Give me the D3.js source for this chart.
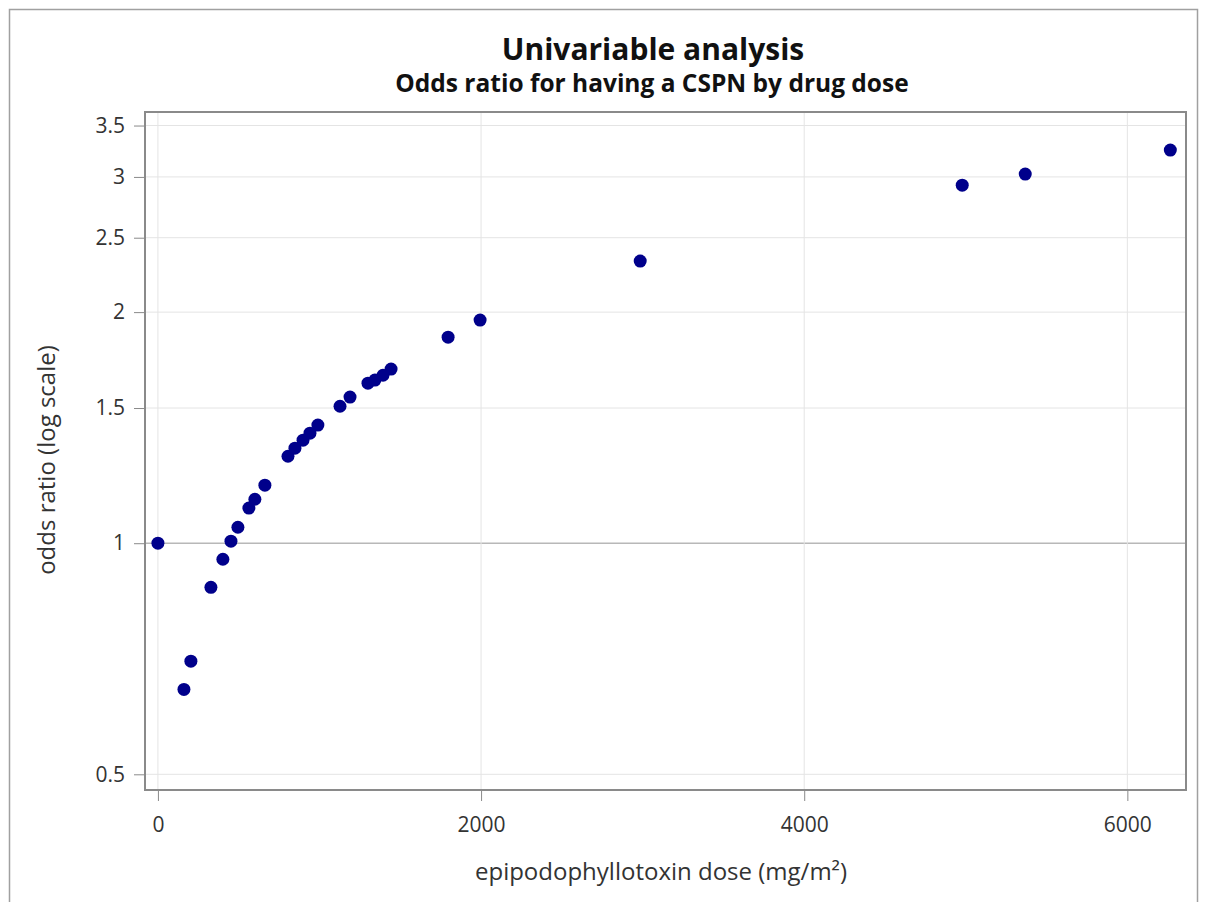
<!DOCTYPE html>
<html><head><meta charset="utf-8">
<script src="https://cdn.jsdelivr.net/npm/d3@7"></script>
<style>body{margin:0;background:#fff;font-family:"Open Sans","DejaVu Sans",sans-serif;}</style>
</head><body><svg id="c" width="1207" height="902"></svg>
<script>
const doses = [0, 161, 204, 328, 402, 452, 495, 563, 600, 662, 805, 848, 898, 941, 990, 1127, 1189, 1300, 1343, 1393, 1443, 1796, 1994, 2985, 4978, 5368, 6266];
const oddsRatios = [1.0, 0.645, 0.702, 0.876, 0.953, 1.006, 1.049, 1.111, 1.141, 1.19, 1.298, 1.33, 1.362, 1.391, 1.425, 1.508, 1.55, 1.616, 1.631, 1.655, 1.686, 1.855, 1.953, 2.331, 2.927, 3.026, 3.252];
const xTicks = [0, 2000, 4000, 6000];
const yTicks = [0.5, 1, 1.5, 2, 2.5, 3, 3.5];
const titleText = "Univariable analysis";
const subtitleText = "Odds ratio for having a CSPN by drug dose";
const xLabel = "epipodophyllotoxin dose (mg/m²)";
const yLabel = "odds ratio (log scale)";

const svg = d3.select("#c");
const L = 145, R = 1186, T = 112, B = 790;
const x = d3.scaleLinear().domain([-80, 6363]).range([L, R]);
const y = d3.scaleLog().domain([0.477, 3.645]).range([B, T]);
const FONT = '"Open Sans","DejaVu Sans",sans-serif';

// outer border
svg.append("rect").attr("x", 9.5).attr("y", 9.5).attr("width", 1188).attr("height", 900)
  .attr("fill", "none").attr("stroke", "#a0a0a0").attr("stroke-width", 1.5);

// gridlines
svg.append("g").selectAll("line").data(yTicks).join("line")
  .attr("x1", L).attr("x2", R).attr("y1", d => y(d)).attr("y2", d => y(d))
  .attr("stroke", d => d === 1 ? "#b8b8b8" : "#e4e4e4").attr("stroke-width", d => d === 1 ? 1.5 : 1);
svg.append("g").selectAll("line").data(xTicks).join("line")
  .attr("y1", T).attr("y2", B).attr("x1", d => x(d)).attr("x2", d => x(d))
  .attr("stroke", "#e4e4e4").attr("stroke-width", 1);

// axes
const yAxis = svg.append("g").attr("transform", `translate(${L},0)`)
  .call(d3.axisLeft(y).tickValues(yTicks).tickFormat(d3.format("")).tickSize(11).tickPadding(9));
const xAxis = svg.append("g").attr("transform", `translate(0,${B})`)
  .call(d3.axisBottom(x).tickValues(xTicks).tickFormat(d3.format("")).tickSize(11).tickPadding(16));
[yAxis, xAxis].forEach(a => {
  a.select(".domain").remove();
  a.selectAll(".tick line").attr("stroke", "#8a8a8a");
  a.selectAll(".tick text").attr("fill", "#333").style("font-size", "21px").style("font-family", FONT);
});

// frame
svg.append("rect").attr("x", L).attr("y", T).attr("width", R - L).attr("height", B - T)
  .attr("fill", "none").attr("stroke", "#8a8a8a").attr("stroke-width", 2);

// points
svg.append("g").selectAll("circle").data(doses.map((d, i) => [d, oddsRatios[i]])).join("circle")
  .attr("cx", d => x(d[0])).attr("cy", d => y(d[1])).attr("r", 6.5).attr("fill", "#00008b");

// titles
svg.append("text").attr("x", 653).attr("y", 60).attr("text-anchor", "middle")
  .style("font-size", "30px").style("font-weight", "bold").attr("fill", "#111").text(titleText);
svg.append("text").attr("x", 652).attr("y", 92).attr("text-anchor", "middle")
  .style("font-size", "24.5px").style("font-weight", "bold").attr("fill", "#111").text(subtitleText);

// axis labels
svg.append("text").attr("x", 661).attr("y", 880).attr("text-anchor", "middle")
  .style("font-size", "24px").attr("fill", "#333").text(xLabel);
svg.append("text").attr("transform", "translate(55,460) rotate(-90)").attr("text-anchor", "middle")
  .style("font-size", "24px").attr("fill", "#333").text(yLabel);
</script></body></html>
